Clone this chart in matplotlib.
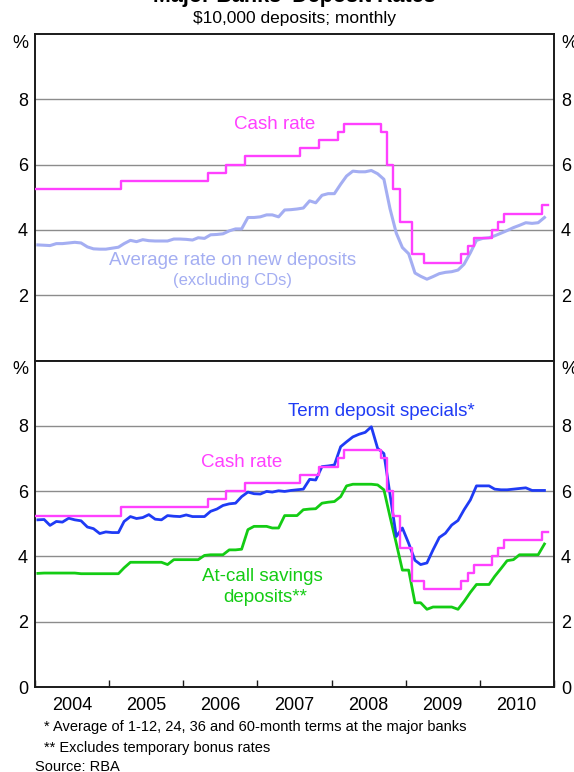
import matplotlib
matplotlib.use('Agg')
import matplotlib.pyplot as plt
import matplotlib.dates as mdates
import matplotlib.ticker as mticker
import pandas as pd
import datetime as dt

plt.rcParams['font.family'] = ['Liberation Sans', 'DejaVu Sans']

# ---------------- data ----------------
# month starts Jan-2004 .. Dec-2010 (cash rate, step series)
cash_months = pd.date_range('2004-01-01', '2010-12-01', freq='MS')
cash_rate = [5.25, 5.25, 5.25, 5.25, 5.25, 5.25, 5.25, 5.25, 5.25, 5.25, 5.25, 5.25,   # 2004
             5.25, 5.25, 5.50, 5.50, 5.50, 5.50, 5.50, 5.50, 5.50, 5.50, 5.50, 5.50,   # 2005
             5.50, 5.50, 5.50, 5.50, 5.75, 5.75, 5.75, 6.00, 6.00, 6.00, 6.25, 6.25,   # 2006
             6.25, 6.25, 6.25, 6.25, 6.25, 6.25, 6.25, 6.50, 6.50, 6.50, 6.75, 6.75,   # 2007
             6.75, 7.00, 7.25, 7.25, 7.25, 7.25, 7.25, 7.25, 7.00, 6.00, 5.25, 4.25,   # 2008
             4.25, 3.25, 3.25, 3.00, 3.00, 3.00, 3.00, 3.00, 3.00, 3.25, 3.50, 3.75,   # 2009
             3.75, 3.75, 4.00, 4.25, 4.50, 4.50, 4.50, 4.50, 4.50, 4.50, 4.75, 4.75]   # 2010

# monthly observations Jan-2004 .. Nov-2010 (plotted mid-month)
obs_months = pd.date_range('2004-01-01', '2010-11-01', freq='MS') + pd.Timedelta(days=14)
avg_new_deposits = [3.54, 3.53, 3.52, 3.58, 3.58, 3.60, 3.62, 3.60, 3.48, 3.42, 3.41, 3.41,
                    3.44, 3.47, 3.58, 3.68, 3.64, 3.70, 3.67, 3.66, 3.66, 3.66, 3.72, 3.72,
                    3.71, 3.69, 3.76, 3.74, 3.85, 3.86, 3.88, 3.97, 4.03, 4.03, 4.38, 4.38,
                    4.40, 4.46, 4.46, 4.40, 4.61, 4.62, 4.64, 4.67, 4.89, 4.83, 5.06, 5.11,
                    5.11, 5.40, 5.65, 5.80, 5.78, 5.78, 5.82, 5.72, 5.55, 4.65, 3.90, 3.46,
                    3.27, 2.68, 2.58, 2.49, 2.57, 2.66, 2.70, 2.72, 2.77, 2.95, 3.30, 3.68,
                    3.74, 3.76, 3.82, 3.90, 3.98, 4.07, 4.14, 4.22, 4.20, 4.22, 4.38]
term_deposit_specials = [5.12, 5.13, 4.95, 5.07, 5.05, 5.17, 5.12, 5.09, 4.90, 4.85, 4.70, 4.75,
                         4.73, 4.73, 5.07, 5.22, 5.16, 5.19, 5.28, 5.14, 5.12, 5.25, 5.23, 5.22,
                         5.27, 5.22, 5.22, 5.22, 5.38, 5.45, 5.56, 5.61, 5.63, 5.83, 5.97, 5.92,
                         5.91, 5.99, 5.97, 6.01, 5.99, 6.02, 6.04, 6.06, 6.36, 6.34, 6.75, 6.77,
                         6.80, 7.36, 7.51, 7.66, 7.74, 7.80, 7.97, 7.31, 7.15, 5.90, 4.61, 4.87,
                         4.40, 3.88, 3.75, 3.80, 4.20, 4.58, 4.71, 4.96, 5.10, 5.43, 5.73, 6.16,
                         6.16, 6.16, 6.06, 6.04, 6.04, 6.06, 6.08, 6.10, 6.02, 6.02, 6.02]
at_call_savings = [3.48, 3.49, 3.49, 3.49, 3.49, 3.49, 3.49, 3.47, 3.47, 3.47, 3.47, 3.47,
                   3.47, 3.47, 3.65, 3.82, 3.82, 3.82, 3.82, 3.82, 3.82, 3.75, 3.90, 3.90,
                   3.90, 3.90, 3.90, 4.03, 4.05, 4.05, 4.05, 4.20, 4.20, 4.22, 4.82, 4.92,
                   4.92, 4.92, 4.87, 4.87, 5.25, 5.25, 5.25, 5.43, 5.45, 5.46, 5.63, 5.66,
                   5.68, 5.83, 6.16, 6.21, 6.21, 6.21, 6.21, 6.19, 6.04, 5.22, 4.40, 3.58,
                   3.58, 2.58, 2.58, 2.38, 2.45, 2.45, 2.45, 2.45, 2.38, 2.62, 2.90, 3.14,
                   3.14, 3.14, 3.39, 3.63, 3.87, 3.90, 4.05, 4.05, 4.05, 4.05, 4.38]

year_labels = ['2004', '2005', '2006', '2007', '2008', '2009', '2010']

# ---------------- styling ----------------
PINK = '#FF40FF'
LAV = '#A4AEF2'
BLUE = '#1F3BF5'
GREEN = '#14CC14'
GRID = '#8C8C8C'
SPINE = '#1A1A1A'

W, H = 574, 772
fig = plt.figure(figsize=(W / 100, H / 100), dpi=100)
x0, x1 = 35, 554
top_t, mid, bot_b = 34, 360.5, 687
ax1 = fig.add_axes([x0 / W, 1 - mid / H, (x1 - x0) / W, (mid - top_t) / H])
ax2 = fig.add_axes([x0 / W, 1 - bot_b / H, (x1 - x0) / W, (bot_b - mid) / H])

xmin, xmax = dt.datetime(2004, 1, 1), dt.datetime(2011, 1, 1)

for ax, yticks in ((ax1, [2, 4, 6, 8]), (ax2, [0, 2, 4, 6, 8])):
    ax.set_xlim(xmin, xmax)
    ax.set_ylim(0, 10)
    ax.set_yticks(yticks)
    ax.yaxis.set_major_formatter(mticker.FormatStrFormatter('%d'))
    ax.tick_params(axis='y', which='both', length=0, labelsize=13, pad=5,
                   left=True, right=True, labelleft=True, labelright=True)
    for y in [2, 4, 6, 8]:
        ax.axhline(y, color=GRID, lw=1.0, zorder=1)
    for s in ax.spines.values():
        s.set_color(SPINE)
        s.set_linewidth(1.4)
    ax.text(-0.0135, 9.72, '%', transform=ax.get_yaxis_transform(), ha='right',
            va='center', fontsize=13)
    ax.text(1.0135, 9.72, '%', transform=ax.get_yaxis_transform(), ha='left',
            va='center', fontsize=13)

# top panel: no x ticks
ax1.tick_params(axis='x', which='both', bottom=False, labelbottom=False)

# bottom panel x ticks
ax2.xaxis.set_major_locator(mdates.YearLocator())
ax2.xaxis.set_major_formatter(mticker.NullFormatter())
ax2.xaxis.set_minor_locator(mdates.MonthLocator(bymonth=7, bymonthday=1))
ax2.xaxis.set_minor_formatter(mticker.FuncFormatter(
    lambda v, p: year_labels[mdates.num2date(v).year - 2004]
    if 0 <= mdates.num2date(v).year - 2004 < len(year_labels) else ''))
ax2.tick_params(axis='x', which='major', direction='in', length=5, width=1,
                color=SPINE, labelbottom=False)
ax2.tick_params(axis='x', which='minor', length=0, labelsize=13, pad=7)

# ---- top panel lines
ax1.plot(obs_months, avg_new_deposits, color=LAV, lw=2.2, zorder=3)
ax1.plot(cash_months, cash_rate, color=PINK, lw=1.7, drawstyle='steps-post', zorder=4)

ax1.text(0.4624, 0.7219, 'Cash rate', transform=ax1.transAxes, ha='center',
         va='center', color=PINK, fontsize=13.5)
ax1.text(0.3805, 0.3078, 'Average rate on new deposits', transform=ax1.transAxes,
         ha='center', va='center', color=LAV, fontsize=13.5)
ax1.text(0.3805, 0.2444, '(excluding CDs)', transform=ax1.transAxes,
         ha='center', va='center', color=LAV, fontsize=12)

# ---- bottom panel lines
ax2.plot(obs_months, at_call_savings, color=GREEN, lw=2.0, zorder=3)
ax2.plot(obs_months, term_deposit_specials, color=BLUE, lw=2.0, zorder=4)
ax2.plot(cash_months, cash_rate, color=PINK, lw=1.7, drawstyle='steps-post', zorder=5)

ax2.text(0.668, 0.8434, 'Term deposit specials*', transform=ax2.transAxes,
         ha='center', va='center', color=BLUE, fontsize=13.5)
ax2.text(0.3988, 0.687, 'Cash rate', transform=ax2.transAxes, ha='center',
         va='center', color=PINK, fontsize=13.5)
ax2.text(0.4383, 0.3378, 'At-call savings', transform=ax2.transAxes,
         ha='center', va='center', color=GREEN, fontsize=13.5)
ax2.text(0.4432, 0.2747, 'deposits**', transform=ax2.transAxes,
         ha='center', va='center', color=GREEN, fontsize=13.5)

# ---- titles and notes
cx = (x0 + x1) / 2 / W
fig.text(cx, 1 - 2 / H, "Major Banks' Deposit Rates", ha='center', va='baseline',
         fontsize=15.5, fontweight='bold')
fig.text(cx, 1 - 18 / H, '$10,000 deposits; monthly', ha='center', va='center',
         fontsize=12.5)

fig.text(44 / W, 1 - 727 / H, '* Average of 1-12, 24, 36 and 60-month terms at the major banks',
         ha='left', va='center', fontsize=10.5)
fig.text(44 / W, 1 - 748 / H, '** Excludes temporary bonus rates',
         ha='left', va='center', fontsize=10.5)
fig.text(35 / W, 1 - 767 / H, 'Source: RBA', ha='left', va='center', fontsize=10.5)

fig.savefig('out.png', dpi=100)
